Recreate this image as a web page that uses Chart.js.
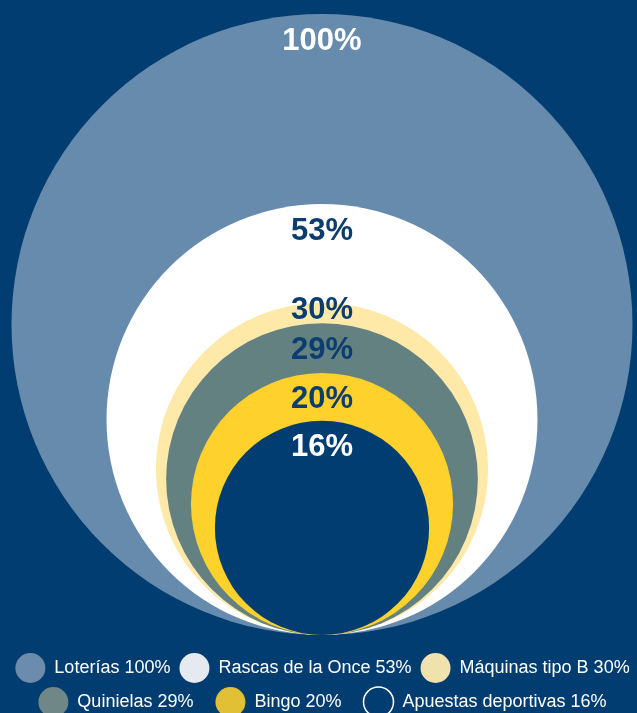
<!DOCTYPE html>
<html>
<head>
<meta charset="utf-8">
<script src="https://cdn.jsdelivr.net/npm/chart.js@4.4.1/dist/chart.umd.min.js"></script>
<style>
    html, body { margin: 0; padding: 0; background: #013d71; overflow: hidden; }
    #wrap { width: 637px; height: 727px; }
</style>
</head>
<body>
<div id="wrap"><canvas id="chart"></canvas></div>
<script>
// Data
var categories = ['Loterías', 'Rascas de la Once', 'Máquinas tipo B', 'Quinielas', 'Bingo', 'Apuestas deportivas'];
var shares = [100, 53, 30, 29, 20, 16];
// circle radius relative to the biggest circle, as drawn in the original
var circleSize = [100, 69.4, 53.5, 50.2, 42.2, 34.5];

var bgColor = '#013d71';
var circleColors = ['#678bad', '#ffffff', '#fee9a9', '#648182', '#fed12d', bgColor];
var legendColors = ['#6b8cad', '#e5e9f0', '#efe2ac', '#6f8787', '#e2c036', bgColor];
var labelColors = ['#ffffff', '#0b3d6e', '#0b3d6e', '#0b3d6e', '#0b3d6e', '#ffffff'];
// extra room after some legend entries so the two rows spread like the original
var legendGap = [' ', ' ', '', '\u2002\u2002', '\u2002\u2002', ''];

// percent labels near the top of every circle
var shareLabels = {
    id: 'shareLabels',
    afterDatasetsDraw: function (chart) {
        var ctx = chart.ctx;
        var meta = chart.getDatasetMeta(0);
        ctx.save();
        ctx.font = 'bold 31px "Liberation Sans", Arial, sans-serif';
        ctx.textAlign = 'center';
        ctx.textBaseline = 'middle';
        meta.data.forEach(function (pt, i) {
            var top = pt.y - pt.options.radius;
            // the 30% label sits on the edge of its ring
            var offset = i === 2 ? 8 : 27;
            ctx.fillStyle = labelColors[i];
            ctx.fillText(shares[i] + '%', pt.x, top + offset);
        });
        ctx.restore();
    }
};

var points = circleSize.map(function (s) {
    return { x: 0, y: s, size: s };
});

new Chart(document.getElementById('chart'), {
    type: 'scatter',
    data: {
        datasets: [{
            data: points,
            showLine: false,
            clip: false,
            pointBackgroundColor: circleColors,
            pointBorderWidth: 0,
            pointRadius: function (c) {
                if (!c.raw) return 0;
                var y = c.chart.scales.y;
                return y.getPixelForValue(0) - y.getPixelForValue(c.raw.size);
            }
        }]
    },
    options: {
        responsive: true,
        maintainAspectRatio: false,
        animation: false,
        events: [],
        layout: { autoPadding: false, padding: { left: 8 } },
        scales: {
            x: { display: false, min: -314, max: 315 },
            y: { display: false, min: -4.51, max: 204.5 }
        },
        plugins: {
            tooltip: { enabled: false },
            legend: {
                position: 'bottom',
                onClick: null,
                labels: {
                    color: '#ffffff',
                    boxWidth: 30,
                    boxHeight: 30,
                    padding: 4,
                    font: { family: '"Liberation Sans", Arial, sans-serif', size: 18 },
                    generateLabels: function () {
                        return categories.map(function (cat, i) {
                            return {
                                text: cat + ' ' + shares[i] + '%' + legendGap[i],
                                fillStyle: legendColors[i],
                                strokeStyle: i === 5 ? '#ffffff' : legendColors[i],
                                lineWidth: i === 5 ? 1.5 : 0,
                                borderRadius: 15,
                                fontColor: '#ffffff',
                                hidden: false,
                                datasetIndex: 0,
                                index: i
                            };
                        });
                    }
                }
            }
        }
    },
    plugins: [shareLabels]
});
</script>
</body>
</html>
